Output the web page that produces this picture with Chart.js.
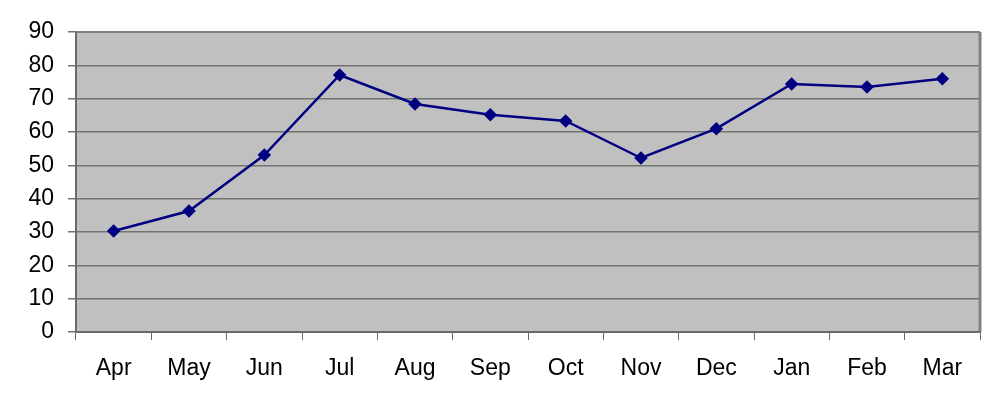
<!DOCTYPE html>
<html>
<head>
<meta charset="utf-8">
<script src="https://cdn.jsdelivr.net/npm/chart.js@4/dist/chart.umd.min.js"></script>
<style>
  html, body { margin: 0; padding: 0; background: #fff; }
  #wrap { width: 1000px; height: 408px; }
</style>
</head>
<body>
<div id="wrap"><canvas id="chart" width="1000" height="408"></canvas></div>
<script>
const months = ["Apr", "May", "Jun", "Jul", "Aug", "Sep", "Oct", "Nov", "Dec", "Jan", "Feb", "Mar"];
const values = [30.3, 36.3, 53.1, 77.1, 68.4, 65.2, 63.3, 52.2, 61, 74.4, 73.5, 76];
const yMin = 0;
const yMax = 90;
const yStep = 10;

// grey plot area with its frame
const plotArea = {
  id: "plotArea",
  beforeDraw(chart) {
    const { ctx, chartArea: a } = chart;
    ctx.save();
    ctx.fillStyle = "#c0c0c0";
    ctx.fillRect(a.left, a.top, a.right - a.left, a.bottom - a.top);
    ctx.restore();
  },
  afterDatasetsDraw(chart) {
    const { ctx, chartArea: a } = chart;
    ctx.save();
    ctx.strokeStyle = "#808080";
    ctx.lineWidth = 2;
    ctx.beginPath();
    ctx.moveTo(a.left, a.top);
    ctx.lineTo(a.right, a.top);
    ctx.stroke();
    ctx.lineWidth = 3;
    ctx.beginPath();
    ctx.moveTo(a.right, a.top);
    ctx.lineTo(a.right, a.bottom);
    ctx.stroke();
    ctx.strokeStyle = "#6a6a6a";
    ctx.lineWidth = 2;
    ctx.beginPath();
    ctx.moveTo(a.left, a.top);
    ctx.lineTo(a.left, a.bottom);
    ctx.lineTo(a.right, a.bottom);
    ctx.stroke();
    ctx.restore();
  }
};

new Chart(document.getElementById("chart"), {
  type: "line",
  data: {
    labels: months,
    datasets: [{
      data: values,
      borderColor: "#000080",
      backgroundColor: "#000080",
      borderWidth: 2.5,
      pointStyle: "rectRot",
      pointRadius: 5,
      pointHoverRadius: 5,
      tension: 0
    }]
  },
  options: {
    responsive: false,
    animation: false,
    layout: { padding: { top: 32, right: 20, left: 0, bottom: 0 } },
    plugins: { legend: { display: false }, tooltip: { enabled: false } },
    scales: {
      x: {
        offset: true,
        grid: { offset: true, drawOnChartArea: false, color: "#6a6a6a", tickLength: 8 },
        border: { display: false },
        ticks: { color: "#000", font: { family: "Liberation Sans", size: 23 }, padding: 15, maxRotation: 0 },
        afterFit(scale) { scale.height = 76; }
      },
      y: {
        min: yMin,
        max: yMax,
        grid: { color: "#727272", lineWidth: 1.5, tickLength: 8 },
        border: { display: false },
        ticks: { stepSize: yStep, color: "#000", font: { family: "Liberation Sans", size: 23 }, padding: 14 },
        afterFit(scale) { scale.width = 76; }
      }
    }
  },
  plugins: [plotArea]
});
</script>
</body>
</html>
